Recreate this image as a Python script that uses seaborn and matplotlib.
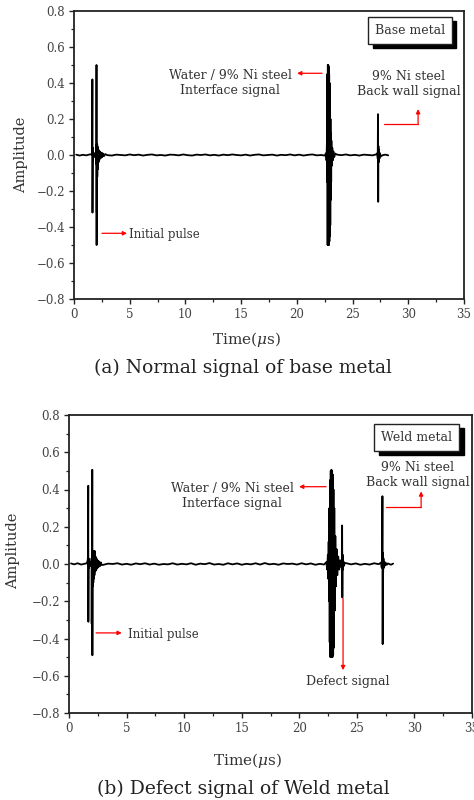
import numpy as np
import pandas as pd
import matplotlib
matplotlib.use("Agg")
import matplotlib.pyplot as plt
import seaborn as sns
from matplotlib.ticker import AutoMinorLocator
from matplotlib.transforms import offset_copy

# ---------------- data ----------------
# (a) base metal: baseline noise samples
t_noise_a = [
    0.20, 0.50, 0.80, 1.10, 1.40, 3.00, 3.40, 3.80, 4.20, 4.60,
    5.00, 5.40, 5.80, 6.20, 6.60, 7.00, 7.40, 7.80, 8.20, 8.60,
    9.00, 9.40, 9.80, 10.20, 10.60, 11.00, 11.40, 11.80, 12.20, 12.60,
    13.00, 13.40, 13.80, 14.20, 14.60, 15.00, 15.40, 15.80, 16.20, 16.60,
    17.00, 17.40, 17.80, 18.20, 18.60, 19.00, 19.40, 19.80, 20.20, 20.60,
    21.00, 21.40, 21.80, 22.20, 22.50, 23.60, 24.00, 24.40, 24.80, 25.20,
    25.60, 26.00, 26.40, 26.80, 27.10, 27.70, 27.95, 28.20]
v_noise_a = [
    0.002, -0.003, 0.001, -0.002, 0.003, -0.001, -0.003, 0.002, 0.000, -0.002,
    0.003, -0.001, 0.002, -0.003, 0.001, 0.003, -0.002, 0.000, -0.003, 0.002,
    0.001, -0.002, 0.003, -0.001, -0.003, 0.002, 0.000, 0.003, -0.002, 0.001,
    -0.003, 0.002, -0.001, 0.003, 0.000, -0.002, 0.002, -0.003, 0.001, 0.003,
    -0.002, 0.000, 0.002, -0.003, 0.001, -0.001, 0.003, -0.002, 0.002, -0.003,
    0.001, 0.003, -0.002, 0.000, -0.003, 0.002, -0.001, 0.003, -0.002, 0.001,
    -0.003, 0.002, 0.000, -0.002, 0.003, -0.001, 0.002, -0.002]
# (a) echoes: initial pulse, interface echo, back wall echo
t_echo_a = [
    1.60, 1.63, 1.65, 1.66, 1.68, 1.70, 1.74, 1.80, 1.86, 1.92,
    1.97, 2.00, 2.01, 2.02, 2.03, 2.04, 2.05, 2.06, 2.07, 2.08,
    2.09, 2.10, 2.12, 2.14, 2.16, 2.18, 2.20, 2.23, 2.26, 2.30,
    2.35, 2.40, 2.45, 2.50, 2.55, 2.60, 2.70, 2.80,
    22.62, 22.66, 22.70, 22.72, 22.74, 22.76, 22.78, 22.80, 22.82, 22.84,
    22.86, 22.88, 22.90, 22.92, 22.94, 22.96, 22.98, 23.00, 23.02, 23.04,
    23.06, 23.08, 23.10, 23.14, 23.18, 23.22, 23.28, 23.35, 23.45,
    27.22, 27.26, 27.28, 27.30, 27.32, 27.34, 27.37, 27.41, 27.46, 27.52]
v_echo_a = [
    0.004, 0.03, 0.42, -0.32, 0.04, -0.03, 0.012, -0.010, 0.010, -0.012,
    0.010, 0.03, -0.05, 0.50, -0.50, 0.06, -0.32, 0.05, -0.16, 0.06,
    -0.12, 0.05, -0.08, 0.04, -0.05, 0.03, -0.04, 0.025, -0.03, 0.02,
    -0.02, 0.015, -0.015, 0.012, -0.010, 0.008, -0.006, 0.005,
    0.01, -0.03, 0.08, -0.15, 0.45, -0.50, 0.50, -0.50, 0.50, -0.50,
    0.49, -0.50, 0.45, -0.48, 0.40, -0.45, 0.30, -0.39, 0.20, -0.25,
    0.12, -0.15, 0.08, -0.06, 0.04, -0.03, 0.02, -0.012, 0.008,
    0.01, -0.02, 0.227, -0.26, 0.05, -0.04, 0.03, -0.02, 0.01, -0.008]

# (b) weld metal: baseline noise samples
t_noise_b = [
    0.17, 0.45, 0.75, 1.05, 1.35, 3.00, 3.40, 3.80, 4.20, 4.60,
    5.00, 5.40, 5.80, 6.20, 6.60, 7.00, 7.40, 7.80, 8.20, 8.60,
    9.00, 9.40, 9.80, 10.20, 10.60, 11.00, 11.40, 11.80, 12.20, 12.60,
    13.00, 13.40, 13.80, 14.20, 14.60, 15.00, 15.40, 15.80, 16.20, 16.60,
    17.00, 17.40, 17.80, 18.20, 18.60, 19.00, 19.40, 19.80, 20.20, 20.60,
    21.00, 21.40, 21.80, 22.15, 24.10, 24.50, 24.90, 25.30, 25.70, 26.10,
    26.50, 26.90, 27.70, 27.95, 28.15]
v_noise_b = [
    0.003, -0.002, 0.004, -0.003, 0.001, -0.004, 0.002, 0.000, 0.004, -0.003,
    0.001, -0.004, 0.003, -0.001, 0.004, -0.003, 0.002, -0.004, 0.000, -0.002,
    0.004, -0.003, 0.001, -0.002, 0.004, -0.004, 0.002, -0.001, 0.005, -0.003,
    0.000, -0.004, 0.004, -0.002, 0.003, -0.004, 0.001, -0.002, 0.004, -0.003,
    0.005, -0.002, 0.001, -0.004, 0.003, 0.000, 0.002, -0.003, 0.004, -0.002,
    0.003, -0.004, 0.001, -0.003, 0.004, -0.002, 0.003, -0.004, 0.001, -0.003,
    0.004, -0.001, 0.003, -0.004, 0.002]
# (b) echoes: initial pulse, interface echo, defect echo, back wall echo
t_echo_b = [
    1.55, 1.62, 1.65, 1.67, 1.68, 1.70, 1.73, 1.78, 1.84, 1.90,
    1.95, 1.96, 1.97, 1.99, 2.01, 2.02, 2.03, 2.05, 2.07, 2.09,
    2.11, 2.13, 2.15, 2.18, 2.21, 2.23, 2.26, 2.30, 2.34, 2.38,
    2.43, 2.48, 2.54, 2.60, 2.68, 2.76, 2.85,
    22.35, 22.42, 22.48, 22.52, 22.55, 22.58, 22.61, 22.64, 22.67, 22.70,
    22.73, 22.76, 22.79, 22.82, 22.85, 22.88, 22.91, 22.94, 22.97, 23.00,
    23.04, 23.08, 23.13, 23.18, 23.24, 23.30, 23.38, 23.46, 23.54, 23.62,
    23.67, 23.70, 23.72, 23.74, 23.76, 23.79, 23.83, 23.88, 23.95,
    27.10, 27.16, 27.20, 27.22, 27.24, 27.26, 27.28, 27.31, 27.35, 27.40,
    27.46, 27.53, 27.60]
v_echo_b = [
    0.004, 0.02, 0.04, 0.42, -0.31, 0.03, -0.02, 0.012, -0.010, 0.012,
    -0.010, 0.03, -0.32, 0.03, -0.04, 0.506, -0.49, 0.04, -0.12, 0.06,
    -0.10, 0.07, -0.08, 0.05, -0.06, 0.07, -0.04, 0.04, -0.035, 0.03,
    -0.025, 0.02, -0.018, 0.014, -0.012, 0.009, -0.006,
    0.01, -0.03, 0.05, -0.08, 0.12, -0.20, 0.30, -0.42, 0.45, -0.50,
    0.50, -0.50, 0.506, -0.50, 0.50, -0.50, 0.48, -0.49, 0.40, -0.45,
    0.30, -0.25, 0.15, -0.12, 0.08, -0.06, 0.04, -0.03, 0.02, -0.015,
    0.02, -0.05, 0.207, -0.18, 0.05, -0.03, 0.015, -0.010, 0.006,
    0.008, -0.02, 0.04, 0.364, -0.43, 0.06, -0.05, 0.03, -0.02, 0.012,
    -0.008, 0.005, -0.004]

x_ticks = [0, 5, 10, 15, 20, 25, 30, 35]
y_ticks = [-0.8, -0.6, -0.4, -0.2, 0.0, 0.2, 0.4, 0.6, 0.8]

# ---------------- style ----------------
sns.set_theme(style="ticks")
plt.rcParams["font.family"] = ["DejaVu Serif"]
plt.rcParams["mathtext.fontset"] = "dejavuserif"
TXT = "#333333"

fig = plt.figure(figsize=(4.74, 8.0), dpi=100)
ax1 = fig.add_axes([0.1561, 0.62625, 0.8228, 0.36])
ax2 = fig.add_axes([0.1456, 0.10875, 0.8502, 0.3725])


def frame(tn, vn, te, ve):
    df = pd.DataFrame({"Time": tn + te, "Amplitude": vn + ve})
    return df.sort_values("Time").reset_index(drop=True)


def style_axes(ax, xlab_xy, ylab_xy):
    ax.set_xlim(0, 35)
    ax.set_ylim(-0.8, 0.8)
    ax.set_xticks(x_ticks)
    ax.set_yticks(y_ticks)
    ax.xaxis.set_minor_locator(AutoMinorLocator(2))
    ax.yaxis.set_minor_locator(AutoMinorLocator(2))
    ax.tick_params(which="major", direction="out", length=3.5, width=1.0,
                   labelsize=8.5, labelcolor="#444444", color="#222222", pad=3)
    ax.tick_params(which="minor", direction="out", length=2.2, width=0.9,
                   color="#222222")
    for sp in ax.spines.values():
        sp.set_visible(True)
        sp.set_linewidth(1.3)
        sp.set_color("#222222")
    ax.set_xlabel("Time($\\mu$s)", fontsize=11, color=TXT)
    ax.set_ylabel("Amplitude", fontsize=10.5, color=TXT)
    ax.xaxis.set_label_coords(*xlab_xy)
    ax.yaxis.set_label_coords(*ylab_xy)
    ax.grid(False)


def shadow_box(ax, x, y, s, fs):
    sh = offset_copy(ax.transData, fig=fig, x=4.5, y=-4, units="dots")
    ax.text(x, y, s, transform=sh, ha="center", va="center", fontsize=fs,
            color="black", zorder=4,
            bbox=dict(boxstyle="square,pad=0.55", fc="black", ec="black", lw=1))
    ax.text(x, y, s, ha="center", va="center", fontsize=fs, color=TXT, zorder=5,
            bbox=dict(boxstyle="square,pad=0.55", fc="white", ec="#222222", lw=1))


def red_arrow(ax, tail, head):
    ax.annotate("", xy=head, xytext=tail,
                arrowprops=dict(arrowstyle="-|>", color="red", lw=0.9,
                                mutation_scale=6, shrinkA=0, shrinkB=0))


def bent_arrow(ax, x0, x1, y0, y1):
    ax.plot([x0, x1], [y0, y0], color="red", lw=0.9)
    red_arrow(ax, (x1, y0), (x1, y1))


# ---------------- panel (a) ----------------
df_a = frame(t_noise_a, v_noise_a, t_echo_a, v_echo_a)
sns.lineplot(data=df_a, x="Time", y="Amplitude", ax=ax1, sort=False,
             estimator=None, color="black", lw=1.3)
style_axes(ax1, (0.442, -0.108), (-0.118, 0.5))

shadow_box(ax1, 30.15, 0.69, "Base metal", 9)
ax1.text(14.0, 0.402, "Water / 9% Ni steel\nInterface signal", ha="center",
         va="center", fontsize=9, color=TXT)
red_arrow(ax1, (22.26, 0.454), (20.02, 0.454))
ax1.text(30.05, 0.394, "9% Ni steel\nBack wall signal", ha="center",
         va="center", fontsize=9, color=TXT)
bent_arrow(ax1, 27.83, 30.88, 0.172, 0.255)
red_arrow(ax1, (2.51, -0.435), (4.76, -0.435))
ax1.text(4.94, -0.44, "Initial pulse", ha="left", va="center",
         fontsize=8.5, color=TXT)

# ---------------- panel (b) ----------------
df_b = frame(t_noise_b, v_noise_b, t_echo_b, v_echo_b)
sns.lineplot(data=df_b, x="Time", y="Amplitude", ax=ax2, sort=False,
             estimator=None, color="black", lw=1.3)
style_axes(ax2, (0.443, -0.128), (-0.122, 0.545))

shadow_box(ax2, 30.2, 0.68, "Weld metal", 9)
ax2.text(14.15, 0.365, "Water / 9% Ni steel\nInterface signal", ha="center",
         va="center", fontsize=9, color=TXT)
red_arrow(ax2, (22.33, 0.415), (19.98, 0.415))
ax2.text(30.3, 0.478, "9% Ni steel\nBack wall signal", ha="center",
         va="center", fontsize=9, color=TXT)
bent_arrow(ax2, 27.54, 30.58, 0.305, 0.39)
red_arrow(ax2, (2.35, -0.37), (4.58, -0.37))
ax2.text(5.15, -0.38, "Initial pulse", ha="left", va="center",
         fontsize=8.5, color=TXT)
red_arrow(ax2, (23.8, -0.185), (23.8, -0.57))
ax2.text(24.24, -0.63, "Defect signal", ha="center", va="center",
         fontsize=9, color=TXT)

# ---------------- captions ----------------
fig.text(0.513, 0.5406, "(a) Normal signal of base metal", ha="center",
         va="center", fontsize=13.5, color="#222222")
fig.text(0.513, 0.0140, "(b) Defect signal of Weld metal", ha="center",
         va="center", fontsize=13.5, color="#222222")

fig.savefig("out.png", dpi=100)
